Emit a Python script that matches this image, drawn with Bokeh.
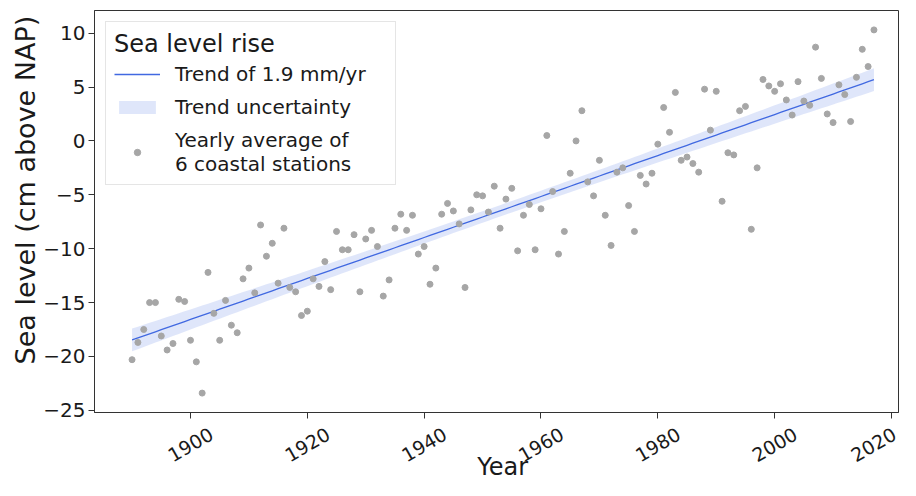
import numpy as np
from bokeh.plotting import figure
from bokeh.layouts import column
from bokeh.models import (Range1d, FixedTicker, CustomJSTickFormatter, Legend,
                          LegendItem, ColumnDataSource, Title)
from bokeh.core.properties import value
from bokeh.embed import file_html
from bokeh.resources import INLINE

years = list(range(1890, 2018))
sea_level = [
    -20.3, -18.7, -17.5, -15.0, -15.0, -18.1, -19.4, -18.8, -14.7, -14.9,   # 1890s
    -18.5, -20.5, -23.4, -12.2, -16.0, -18.5, -14.8, -17.1, -17.8, -12.8,   # 1900s
    -11.8, -14.1, -7.8, -10.7, -9.5, -13.2, -8.1, -13.6, -14.0, -16.2,      # 1910s
    -15.8, -12.8, -13.5, -11.2, -13.8, -8.4, -10.1, -10.1, -8.7, -14.0,     # 1920s
    -9.1, -8.3, -9.8, -14.4, -12.9, -8.1, -6.8, -8.3, -6.9, -10.5,          # 1930s
    -9.8, -13.3, -11.8, -6.8, -5.8, -6.5, -7.7, -13.6, -6.4, -5.0,          # 1940s
    -5.1, -6.6, -4.2, -8.1, -5.4, -4.4, -10.2, -6.9, -5.9, -10.1,           # 1950s
    -6.3, 0.5, -4.7, -10.5, -8.4, -3.0, 0.0, 2.8, -3.8, -5.1,               # 1960s
    -1.8, -6.9, -9.7, -2.9, -2.5, -6.0, -8.4, -3.2, -4.0, -3.0,             # 1970s
    -0.3, 3.1, 0.8, 4.5, -1.8, -1.5, -2.1, -2.9, 4.8, 1.0,                  # 1980s
    4.6, -5.6, -1.1, -1.3, 2.8, 3.2, -8.2, -2.5, 5.7, 5.1,                  # 1990s
    4.6, 5.3, 3.8, 2.4, 5.5, 3.7, 3.3, 8.7, 5.8, 2.5,                       # 2000s
    1.7, 5.2, 4.3, 1.8, 5.9, 8.5, 6.9, 10.3,                                # 2010s
]
x_ticks = [1900, 1920, 1940, 1960, 1980, 2000, 2020]
x_tick_labels = ["1900", "1920", "1940", "1960", "1980", "2000", "2020"]
y_ticks = [-25, -20, -15, -10, -5, 0, 5, 10]
x_title = "Year"
y_title = "Sea level (cm above NAP)"
legend_title = "Sea level rise"
label_trend = "Trend of 1.9 mm/yr"
label_band = "Trend uncertainty"
label_points = "Yearly average of\n6 coastal stations"

# linear trend and its 95% confidence band, fitted to the yearly values
xa = np.array(years, dtype=float)
ya = np.array(sea_level, dtype=float)
slope, intercept = np.polyfit(xa, ya, 1)
fit = slope * xa + intercept
n = len(xa)
s = np.sqrt(np.sum((ya - fit) ** 2) / (n - 2))
sxx = np.sum((xa - xa.mean()) ** 2)
half = 1.96 * s * np.sqrt(1.0 / n + (xa - xa.mean()) ** 2 / sxx)

src = ColumnDataSource(dict(year=years, level=sea_level, fit=fit,
                            lo=fit - half, hi=fit + half))

FONT = "DejaVu Sans"
TXT = "#1a1a1a"
AX = "#333333"
X0, X1 = 1883.57, 2021.2
Y0, Y1 = -25.2, 12.1

# ---- main plot -------------------------------------------------------------
p = figure(width=900, height=422, output_backend="svg", toolbar_location=None,
           x_range=Range1d(X0, X1), y_range=Range1d(Y0, Y1),
           min_border_left=94, min_border_right=2, min_border_top=10,
           min_border_bottom=10)
p.background_fill_color = "white"
p.border_fill_color = "white"
p.outline_line_color = AX
p.outline_line_width = 1
p.xgrid.visible = False
p.ygrid.visible = False

band = p.varea(x="year", y1="lo", y2="hi", source=src,
               fill_color="royalblue", fill_alpha=0.17)
line = p.line(x="year", y="fit", source=src, line_color="royalblue",
              line_width=1.3)
pts = p.scatter(x="year", y="level", source=src, size=6,
                fill_color="#a6a6a6", line_color="#a6a6a6")

for ax in (p.xaxis[0], p.yaxis[0]):
    ax.axis_line_color = AX
    ax.major_tick_line_color = AX
    ax.major_tick_out = 6
    ax.major_tick_in = 0
    ax.minor_tick_line_color = None
    ax.major_label_text_font = FONT
    ax.major_label_text_font_size = "20px"
    ax.major_label_text_line_height = 1.0
    ax.major_label_text_color = TXT

p.xaxis.ticker = FixedTicker(ticks=x_ticks)
p.yaxis.ticker = FixedTicker(ticks=y_ticks)
p.yaxis.formatter = CustomJSTickFormatter(
    code="return tick < 0 ? '\\u2212' + Math.abs(tick) : String(tick);")
p.yaxis.major_label_standoff = 3
# the x tick labels are drawn, rotated and centred, in the strip below
p.xaxis.major_label_text_font_size = "0px"
p.xaxis.major_label_text_color = None
p.xaxis.major_label_standoff = 0

# y axis title, placed a little above the middle as in the original
p.add_layout(Title(text=y_title, align="left", offset=48, standoff=0,
                   text_font=FONT, text_font_size="27px",
                   text_font_style="normal", text_color=TXT), "left")

legend = Legend(items=[
    LegendItem(label=label_trend, renderers=[line]),
    LegendItem(label=label_band, renderers=[band]),
    LegendItem(label=label_points, renderers=[pts]),
], location="top_left")
legend.title = legend_title
legend.title_text_font = FONT
legend.title_text_font_size = "24px"
legend.title_text_font_style = "normal"
legend.title_text_color = TXT
legend.title_standoff = 4
legend.label_text_font = FONT
legend.label_text_font_size = "20px"
legend.label_text_line_height = 1.25
legend.label_text_color = TXT
legend.label_standoff = 15
legend.label_width = 212
legend.glyph_width = 46
legend.glyph_height = 16
legend.label_height = 24
legend.spacing = 9
legend.padding = 8
legend.margin = 11
legend.border_line_color = "#cccccc"
legend.border_line_width = 1
legend.background_fill_color = "white"
legend.background_fill_alpha = 0.85
p.add_layout(legend)

# ---- strip below with the x tick labels and the x axis title ----------------
STRIP_H = 58
q = figure(width=900, height=STRIP_H, output_backend="svg",
           toolbar_location=None, x_range=p.x_range,
           y_range=Range1d(-STRIP_H, 0), x_axis_type=None, y_axis_type=None,
           min_border_left=94, min_border_right=2, min_border_top=0,
           min_border_bottom=0)
q.outline_line_color = None
q.background_fill_color = "white"
q.border_fill_color = "white"
q.xgrid.visible = False
q.ygrid.visible = False
tick_style = dict(angle=np.pi / 6, text_align="center", text_baseline="middle",
                  text_line_height=1.0, text_font=value(FONT),
                  text_font_size="19px", text_color=TXT)
q.text(x=x_ticks[:-1], y=[-22] * (len(x_ticks) - 1), text=x_tick_labels[:-1],
       **tick_style)
# the last label is nudged left so that it stays inside the page
q.text(x=x_ticks[-1:], y=[-22], text=x_tick_labels[-1:], x_offset=-18,
       **tick_style)
q.text(x=[(X0 + 2023.35) / 2], y=[-44], text=[x_title],
       text_align="center", text_baseline="middle", text_line_height=1.0,
       text_font=value(FONT), text_font_size="24px", text_color=TXT)

layout = column(p, q, spacing=0)
open("out.html", "w").write(file_html(layout, INLINE))
